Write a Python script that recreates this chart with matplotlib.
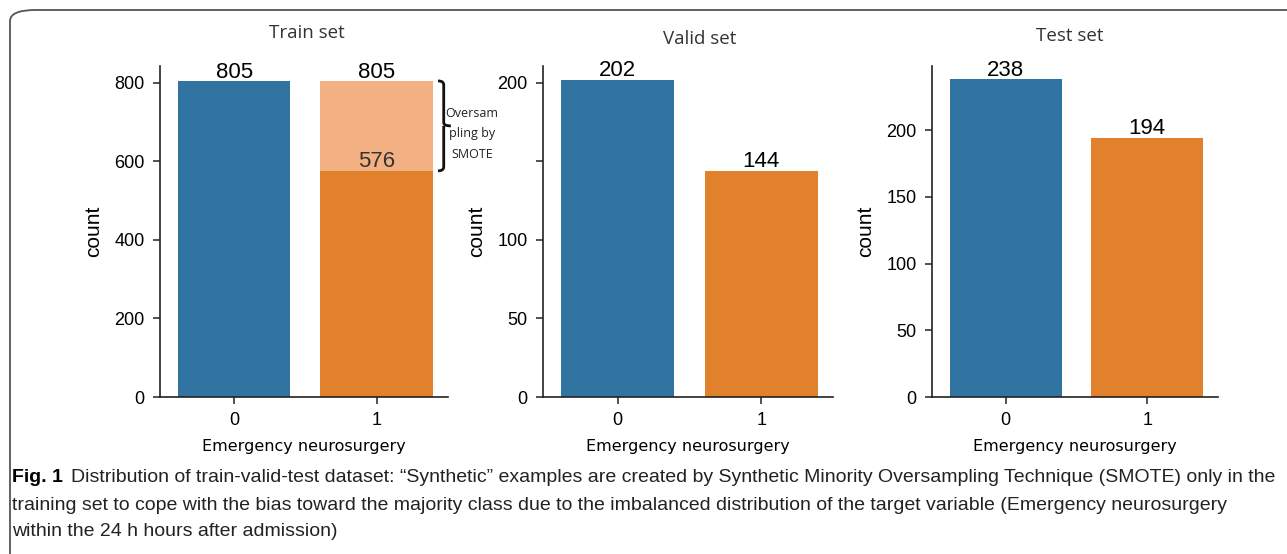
import matplotlib
matplotlib.use('Agg')
import matplotlib.pyplot as plt
from matplotlib.patches import FancyBboxPatch
from matplotlib.path import Path
from matplotlib.patches import PathPatch

# 数据
classes = ['0', '1']
train_counts = [805, 805]
train_original = [805, 576]
valid_counts = [202, 144]
test_counts = [238, 194]
titles = ['Train set', 'Valid set', 'Test set']

blue = '#3274a1'
orange = '#e1812c'
light_orange = '#f3b183'

fig = plt.figure(figsize=(12.87, 5.54), dpi=100)

W, H = 1287, 554
def box(x0, x1, y0, y1):
    return [x0 / W, 1 - y1 / H, (x1 - x0) / W, (y1 - y0) / H]

ax1 = fig.add_axes(box(160, 448, 66, 397))
ax2 = fig.add_axes(box(543, 833, 66, 397))
ax3 = fig.add_axes(box(932, 1218, 66, 397))

num_font = 'Liberation Sans'
x = [0, 1]

# 训练集：SMOTE 之后和之前
ax1.bar(x, train_counts, width=0.79, color=[blue, light_orange])
ax1.bar(x, train_original, width=0.79, color=[blue, orange])
for i in x:
    ax1.text(i, train_counts[i] - 6, str(train_counts[i]), ha='center', va='bottom',
             fontsize=16, family=num_font)
ax1.text(1, train_original[1] - 4, str(train_original[1]), ha='center', va='bottom',
         fontsize=16, family=num_font, color='#333333')
ax1.set_ylim(0, 843)
ax1.set_yticks([0, 200, 400, 600, 800])

ax2.bar(x, valid_counts, width=0.79, color=[blue, orange])
for i, v in enumerate(valid_counts):
    ax2.text(i, v - 1, str(v), ha='center', va='bottom', fontsize=16, family=num_font)
ax2.set_ylim(0, 210.8)
ax2.set_yticks([0, 50, 100, 150, 200])
ax2.set_yticklabels(['0', '50', '100', '', '200'])

ax3.bar(x, test_counts, width=0.79, color=[blue, orange])
for i, v in enumerate(test_counts):
    ax3.text(i, v - 1, str(v), ha='center', va='bottom', fontsize=16, family=num_font)
ax3.set_ylim(0, 248)
ax3.set_yticks([0, 50, 100, 150, 200])

title_x = [0.51, 0.54, 0.483]
title_pad = [20, 16, 18]
for ax, t, tx, tp in zip([ax1, ax2, ax3], titles, title_x, title_pad):
    ax.set_xlim(-0.52, 1.5)
    ax.set_xticks(x)
    ax.set_xticklabels(classes)
    ax.spines['top'].set_visible(False)
    ax.spines['right'].set_visible(False)
    for s in ['left', 'bottom']:
        ax.spines[s].set_color('#222222')
        ax.spines[s].set_linewidth(1.2)
    ax.tick_params(labelsize=13, length=5, width=1.1, color='#222222', pad=6)
    for lab in ax.get_xticklabels() + ax.get_yticklabels():
        lab.set_family(num_font)
    ax.set_ylabel('count', fontsize=15, family=num_font, labelpad=8)
    ax.set_xlabel('Emergency neurosurgery', fontsize=11.5, family='DejaVu Sans', labelpad=7)
    ax.set_title(t, fontsize=13.5, family='Open Sans', color='#333333', pad=tp, x=tx)

# 大括号
bx0, bx1, btip = 1.43, 1.47, 1.52
ytop, ybot = 805, 576
ymid = (ytop + ybot) / 2
verts = [(bx0, ytop), (bx1, ytop), (bx1, ytop - 10),
         (bx1, ymid + 8), (bx1, ymid), (btip, ymid),
         (bx1, ymid), (bx1, ymid - 8),
         (bx1, ybot + 10), (bx1, ybot), (bx0, ybot)]
codes = [Path.MOVETO, Path.CURVE3, Path.CURVE3,
         Path.LINETO, Path.CURVE3, Path.CURVE3,
         Path.MOVETO, Path.LINETO,
         Path.LINETO, Path.CURVE3, Path.CURVE3]
ax1.add_patch(PathPatch(Path(verts, codes), fill=False, lw=2, color='#111111',
                        clip_on=False))
fig.text(472 / W, 1 - 134 / H, 'Oversam\npling by\nSMOTE', ha='center', va='center',
         fontsize=9, family='Open Sans', linespacing=1.75, color='#222222')

# 图注
cap_font = 'Liberation Sans'
cap_size = 14
fig.canvas.draw()
r = fig.canvas.get_renderer()
fig_lbl = fig.text(12 / W, 1 - 477 / H, 'Fig. 1', fontsize=cap_size, va='center',
                   family=cap_font, fontweight='bold')
bb = fig_lbl.get_window_extent(renderer=r)
fig.text((bb.x1 + 8) / W, 1 - 477 / H,
         'Distribution of train-valid-test dataset: \u201cSynthetic\u201d examples are created by '
         'Synthetic Minority Oversampling Technique (SMOTE) only in the',
         fontsize=cap_size, va='center', family=cap_font, color='#222222')
fig.text(12 / W, 1 - 505 / H,
         'training set to cope with the bias toward the majority class due to the imbalanced '
         'distribution of the target variable (Emergency neurosurgery',
         fontsize=cap_size, va='center', family=cap_font, color='#222222')
fig.text(12 / W, 1 - 532 / H, 'within the 24 h hours after admission)',
         fontsize=cap_size, va='center', family=cap_font, color='#222222')

# 外框
frame = FancyBboxPatch((10 / W, -0.05), 1.1, 1 - 10 / H + 0.05,
                       boxstyle='round,pad=0,rounding_size=0.02',
                       transform=fig.transFigure, fill=False, lw=1.3,
                       edgecolor='#555555', clip_on=False)
fig.patches.append(frame)

plt.savefig('out.png', dpi=100)
